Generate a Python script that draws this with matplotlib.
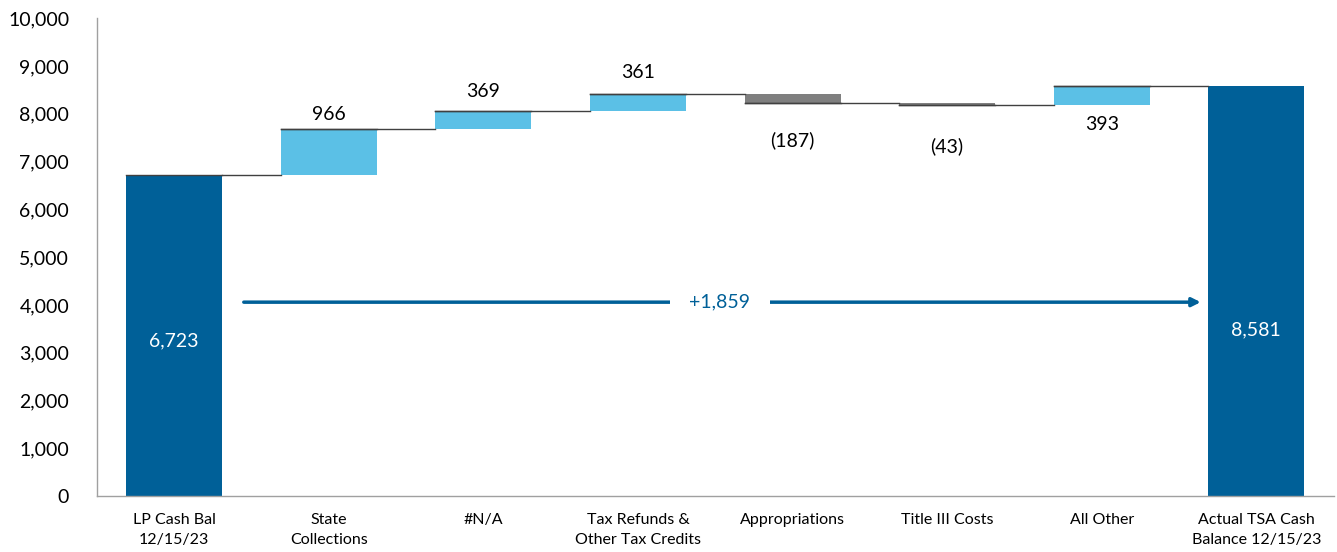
import numpy as np
import matplotlib.pyplot as plt

plt.rcParams['font.family'] = ['Lato', 'DejaVu Sans']

# data
categories = ['LP Cash Bal\n12/15/23', 'State\nCollections', '#N/A',
              'Tax Refunds &\nOther Tax Credits', 'Appropriations',
              'Title III Costs', 'All Other', 'Actual TSA Cash\nBalance 12/15/23']
start_value = 6723
changes = [966, 369, 361, -187, -43, 393]
end_value = 8581
net_change_label = '+1,859'

DARK = '#006098'
LIGHT = '#5BC0E6'
GREY = '#7F7F7F'

fig = plt.figure(figsize=(13.37, 5.52), dpi=100)
ax = fig.add_axes([0.0725, 0.101, 0.925, 0.866])

x = np.arange(len(categories))
w = 0.62

# running totals
bottoms = [0]
heights = [start_value]
colors = [DARK]
level = start_value
for c in changes:
    bottoms.append(level if c >= 0 else level + c)
    heights.append(abs(c))
    colors.append(LIGHT if c >= 0 else GREY)
    level += c
bottoms.append(0)
heights.append(end_value)
colors.append(DARK)

ax.bar(x, heights, bottom=bottoms, width=w, color=colors, zorder=2)

# connector lines
tops = [start_value] + list(start_value + np.cumsum(changes))
for i, t in enumerate(tops):
    x0 = x[i] - w / 2 if i > 0 else x[i] + w / 2
    ax.plot([x0, x[i + 1] - w / 2], [t, t], color='#404040', lw=1, zorder=3)
    ax.plot([x[i] - w / 2, x[i] + w / 2], [t, t], color='#404040', lw=1, zorder=3)

# value labels for changes
label_offsets = [15, 20, 22, -38, -41, -20]
for i, c in enumerate(changes):
    xi = x[i + 1]
    txt = f'{c:,}' if c >= 0 else f'({abs(c):,})'
    if label_offsets[i] > 0:
        y = bottoms[i + 1] + heights[i + 1]
        va = 'bottom'
        off = label_offsets[i] - 9
    else:
        y = bottoms[i + 1]
        va = 'top'
        off = label_offsets[i] + 9
    ax.annotate(txt, (xi, y), xytext=(0, off), textcoords='offset pixels',
                ha='center', va=va, fontsize=14)

# labels inside totals
ax.text(x[0], 3240, f'{start_value:,}', color='white', ha='center', va='center', fontsize=14)
ax.text(x[-1], 3490, f'{end_value:,}', color='white', ha='center', va='center', fontsize=14)

# net change arrow
arrow_y = 4060
ax.annotate('', xy=(6.64, arrow_y), xytext=(0.45, arrow_y),
            arrowprops=dict(arrowstyle='-|>,head_length=0.5,head_width=0.25',
                            color=DARK, lw=2.5, shrinkA=0, shrinkB=0), zorder=4)
ax.text(3.53, arrow_y, net_change_label, color=DARK, ha='center', va='center',
        fontsize=14, zorder=5,
        bbox=dict(facecolor='white', edgecolor='none', pad=14))

ax.set_xlim(-0.5, 7.5)
ax.set_ylim(0, 10000)
ax.set_yticks(np.arange(0, 10001, 1000))
ax.set_yticklabels([f'{v:,}' for v in range(0, 10001, 1000)], fontsize=14)
ax.set_xticks(x)
ax.set_xticklabels(categories, fontsize=11.5, linespacing=1.55)
ax.tick_params(axis='both', length=0)
ax.tick_params(axis='y', pad=20)
ax.tick_params(axis='x', pad=12)
for s in ['top', 'right']:
    ax.spines[s].set_visible(False)
for s in ['left', 'bottom']:
    ax.spines[s].set_color('#A0A0A0')
    ax.spines[s].set_linewidth(1)

fig.savefig('out.png', dpi=100)
